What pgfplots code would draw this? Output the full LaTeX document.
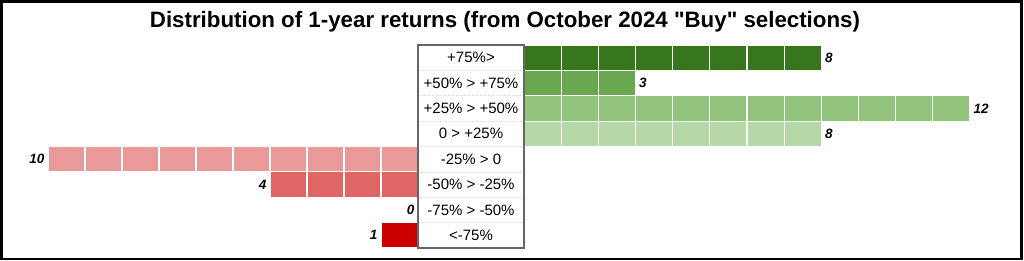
\documentclass[border=0pt]{standalone}
\usepackage{pgfplots}
\pgfplotsset{compat=1.18}
\usepackage{fontspec}
\setmainfont{Liberation Sans}[Ligatures=TeXOff]
\definecolor{g1}{HTML}{38761D}
\definecolor{g2}{HTML}{6AA84F}
\definecolor{g3}{HTML}{93C47D}
\definecolor{g4}{HTML}{B6D7A8}
\definecolor{r1}{HTML}{EA9999}
\definecolor{r2}{HTML}{E06666}
\definecolor{r3}{HTML}{CC0000}
\definecolor{r4}{HTML}{CC0000}
\pgfplotsset{
  cellaxis/.style={
    scale only axis, height=203pt, ymin=-0.5, ymax=7.5,
    xbar, bar width=1, bar shift=0pt,
    axis on top,
    axis line style={draw=none},
    major tick length=0pt, minor tick length=0pt,
    xticklabels={}, yticklabels={},
    ytick={-0.5,0.5,...,7.5},
    xmajorgrids, ymajorgrids,
    grid style={white, line width=1.1pt},
    /pgf/number format/assume math mode=true,
    nodes near coords,
    every node near coord/.append style={font=\fontsize{13.5}{13.5}\selectfont\bfseries\itshape, text=black, inner sep=3.5pt},
    clip=false,
  }
}
\begin{document}
\begin{tikzpicture}[x=1pt,y=1pt]
\fill[white] (0,0) rectangle (1024,261);
\draw[black, line width=2.2pt] (1.5,1.8) rectangle (1021.5,259.5);
\node[font=\fontsize{22.3}{22.3}\selectfont\bfseries] at (505,239.5) {Distribution of 1-year returns (from October 2024 "Buy" selections)};
% right (positive) axis
\begin{axis}[cellaxis, at={(524pt,13pt)}, anchor=south west, width=446pt,
  xmin=0, xmax=12, xtick={0,1,...,12},
  every node near coord/.append style={anchor=west}]
\addplot[fill=g1, draw=none] coordinates {(8,7)};
\addplot[fill=g2, draw=none] coordinates {(3,6)};
\addplot[fill=g3, draw=none] coordinates {(12,5)};
\addplot[fill=g4, draw=none] coordinates {(8,4)};
\end{axis}
% left (negative) axis
\begin{axis}[cellaxis, at={(48pt,13pt)}, anchor=south west, width=370pt,
  xmin=0, xmax=10, x dir=reverse, xtick={0,1,...,10},
  every node near coord/.append style={anchor=east}]
\addplot[fill=r1, draw=none] coordinates {(10,3)};
\addplot[fill=r2, draw=none] coordinates {(4,2)};
\addplot[fill=r3, draw=none] coordinates {(0,1)};
\addplot[fill=r4, draw=none] coordinates {(1,0)};
\end{axis}
% label box
\fill[white] (418,13) rectangle (524,216);
\foreach \k in {1,...,7} {
  \draw[gray!25, line width=0.6pt, densely dotted] (419,216-\k*25.375) -- (523,216-\k*25.375);
}
\draw[gray!80!black, line width=1.1pt] (418,13) rectangle (524,216);
\foreach \lab [count=\k] in {+75\%>,+50\% > +75\%,+25\% > +50\%,0 > +25\%,-25\% > 0,-50\% > -25\%,-75\% > -50\%,<-75\%} {
  \node[font=\fontsize{15}{15}\selectfont] at (471,216-\k*25.375+12.7) {\lab};
}
\end{tikzpicture}
\end{document}
